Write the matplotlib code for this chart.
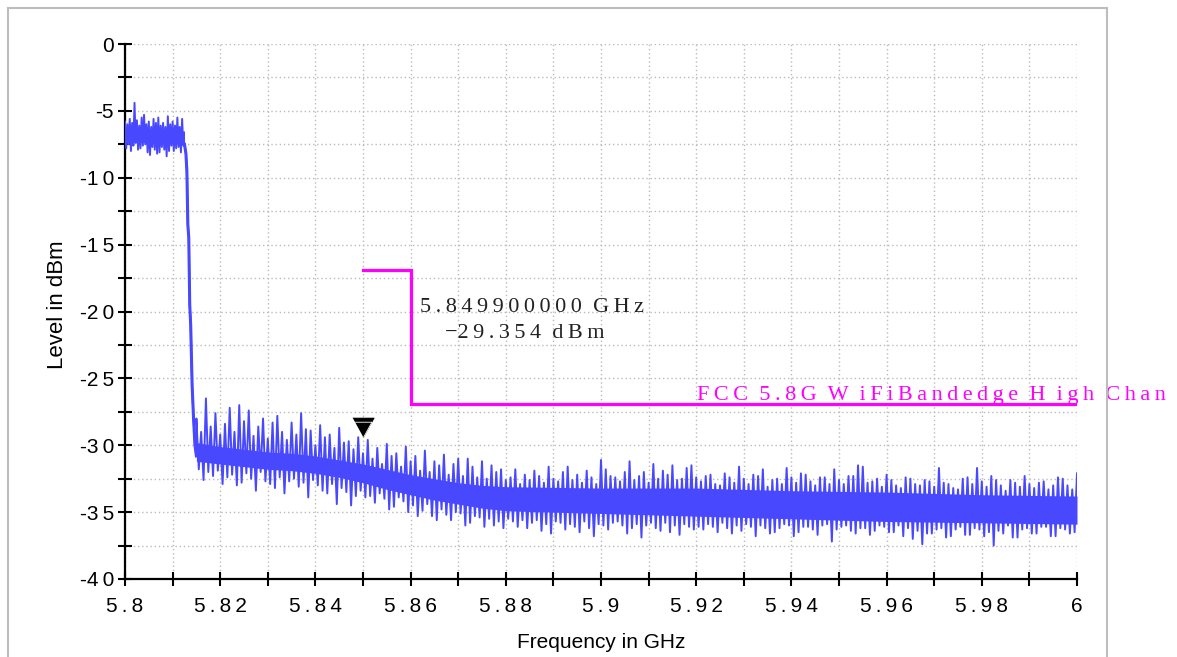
import numpy as np
import matplotlib.pyplot as plt
from matplotlib.lines import Line2D
from matplotlib.ticker import MultipleLocator, FixedLocator, FixedFormatter

# ---- data ----
# in-band part of the trace (5.8000 .. 5.8125 GHz, 0.5 MHz steps)
inband_peak = [-5.8, -6.0, -5.6, -5.9, -4.4, -5.7, -6.1, -5.5, -5.3, -6.0,
               -5.8, -6.2, -5.6, -5.9, -5.5, -6.1, -5.9, -6.2, -5.4, -6.0,
               -5.8, -6.1, -5.5, -6.2, -5.6, -5.9]
inband_valley = [-7.8, -7.5, -8.0, -7.6, -7.4, -7.9, -7.8, -7.6, -7.5, -8.1,
                 -8.3, -7.7, -7.9, -8.2, -8.1, -7.7, -7.9, -8.4, -8.0, -7.6,
                 -8.0, -7.8, -7.7, -8.1, -7.6, -7.9]
inband_core_freq = [5.8000, 5.8125]
inband_core_top = [-6.4, -6.5]
inband_core_bot = [-7.3, -7.5]

# roll-off at the channel edge
rolloff_freq = [5.8125, 5.8128, 5.8130, 5.8132, 5.8134, 5.8136, 5.8138, 5.8141, 5.8144, 5.8147, 5.8150]
rolloff_level = [-7.5, -8.2, -9.5, -13.5, -14.5, -19.5, -21.0, -25.5, -28.0, -30.0, -30.8]

# out-of-band noise (5.815 .. 6.000 GHz, 1 MHz steps): max and min of each bin
noise_peak = [
    -28.0, -29.0, -26.5, -28.6, -27.6, -29.2, -28.4, -27.2, -29.0, -27.0,
    -28.2, -27.4, -29.3, -28.6, -28.0, -29.5, -28.3, -27.8, -29.0, -29.6,
    -28.3, -29.2, -27.6, -28.8, -28.9, -30.0, -28.5, -29.4, -29.2, -30.2,
    -28.7, -29.8, -29.7, -30.3, -29.4, -30.6,
    -29.6, -31.0, -30.2, -31.4, -29.9, -30.8, -30.6, -31.6, -30.1, -31.2,
    -30.8, -31.9, -30.4, -32.0, -31.2, -31.5, -30.7, -32.2, -31.4, -31.0,
    -32.3, -31.0, -31.6, -32.4, -31.2, -32.5, -31.5, -32.0, -31.8, -32.6,
    -32.4, -31.8, -32.9, -32.2, -32.6, -31.9, -32.3, -32.8, -31.6, -32.5,
    -32.7, -32.0, -31.6, -32.6, -32.2, -32.8, -31.9, -32.4, -32.9, -31.1,
    -31.8, -32.3, -32.4, -32.7, -32.0, -31.2, -32.6, -32.3, -32.0, -32.8,
    -31.4, -32.5, -31.9, -32.2, -31.5, -32.6, -32.5, -31.7, -31.5, -32.4,
    -32.7, -32.3, -32.2, -32.9, -33.0, -32.1, -32.4, -32.8, -31.6, -32.5,
    -32.9, -32.2, -32.3, -31.8, -33.1, -32.6, -32.5, -32.9, -31.7, -32.4,
    -32.8, -32.1, -32.2, -32.7, -33.0, -32.4, -32.4, -32.9, -31.8, -32.6,
    -32.9, -32.3, -32.3, -31.5, -31.6, -32.8, -32.7, -32.5, -33.1, -32.2,
    -32.6, -33.0, -33.2, -32.4, -32.5, -32.9, -33.0, -32.6, -32.7, -33.1,
    -31.7, -32.8, -32.9, -33.2, -33.3, -32.5, -32.4, -32.9, -31.7, -32.7,
    -33.1, -32.3, -32.6, -33.0, -33.4, -32.6, -32.8, -33.1, -32.3, -32.9,
    -33.2, -32.8, -32.7, -33.3, -33.0, -32.4, -32.5, -33.0, -33.3, -32.1,
]
noise_valley = [
    -31.8, -32.6, -32.0, -32.3, -31.9, -32.9, -32.4, -32.2, -33.0, -32.8,
    -32.1, -32.5, -33.4, -32.0, -32.7, -32.9, -33.2, -32.4, -33.6, -32.7,
    -32.5, -33.1, -32.8, -33.9, -32.6, -33.0, -33.4, -33.6, -32.9, -34.4,
    -33.2, -33.5, -34.5, -33.8, -33.4, -33.9,
    -33.8, -34.3, -33.6, -34.0, -34.8, -34.6, -33.9, -34.2, -35.0, -34.5,
    -35.3, -34.9, -34.4, -35.3, -35.6, -34.8, -35.2, -35.6, -35.0, -35.1,
    -36.0, -35.8, -35.3, -35.4, -36.1, -35.5, -36.0, -35.7, -36.2, -35.5,
    -35.7, -36.1, -35.6, -36.2, -35.8, -35.6, -36.4, -35.9, -36.6, -35.7,
    -35.8, -36.3, -35.9, -36.1, -36.5, -35.7, -36.2, -36.8, -35.9, -36.0,
    -36.3, -35.8, -35.7, -36.0, -36.6, -36.2, -35.9, -36.9, -36.0, -35.8,
    -36.2, -36.4, -35.8, -36.5, -36.0, -36.7, -35.9, -36.1, -36.3, -36.1,
    -36.3, -35.9, -36.1, -36.5, -35.8, -36.2, -36.6, -36.0, -36.4, -35.9,
    -36.1, -36.8, -36.0, -36.2, -36.6, -36.5, -36.2, -35.9, -36.0, -36.8,
    -36.5, -36.1, -36.1, -36.3, -36.7, -36.0, -35.9, -37.2, -36.3, -36.1,
    -36.0, -36.4, -36.6, -36.2, -36.2, -36.7, -36.4, -36.0, -36.1, -36.5,
    -36.5, -36.0, -36.8, -36.2, -37.0, -36.4, -37.4, -36.6, -36.6, -36.3,
    -36.2, -36.9, -36.8, -36.3, -36.1, -36.7, -36.7, -36.2, -36.3, -36.8,
    -36.5, -37.5, -36.4, -36.6, -36.0, -36.9, -36.9, -36.3, -36.2, -36.6,
    -36.6, -36.1, -36.1, -36.8, -36.8, -36.2, -36.3, -36.6, -36.5, -35.9,
]
noise_core_freq = [5.815, 5.82, 5.825, 5.83, 5.835, 5.84, 5.845, 5.85, 5.855, 5.86,
                   5.865, 5.87, 5.875, 5.88, 5.90, 5.92, 5.94, 5.96, 5.98, 6.0]
noise_core_top = [-29.8, -30.1, -30.3, -30.5, -30.6, -30.8, -31.1, -31.4, -31.8, -32.2,
                  -32.5, -32.8, -33.0, -33.1, -33.2, -33.2, -33.4, -33.5, -33.7, -33.8]
noise_core_bot = [-31.2, -31.4, -31.6, -31.8, -31.9, -32.1, -32.4, -32.8, -33.3, -33.7,
                  -34.1, -34.4, -34.7, -34.9, -35.1, -35.3, -35.5, -35.7, -35.8, -35.9]

# limit line
limit_freq = [5.85, 5.86, 5.86, 6.0]
limit_level = [-16.9, -16.9, -26.9, -26.9]
limit_name = "FCC 5.8G W iFiBandedge H igh Chan"

# marker
marker_freq = 5.8499
marker_level = -29.354
marker_lines = ["5.849900000 GHz", "\u221229.354 dBm"]

x_major = [5.8, 5.82, 5.84, 5.86, 5.88, 5.9, 5.92, 5.94, 5.96, 5.98, 6.0]
x_labels = ['5.8', '5.82', '5.84', '5.86', '5.88', '5.9',
            '5.92', '5.94', '5.96', '5.98', '6']
y_major = [-40, -35, -30, -25, -20, -15, -10, -5, 0]
y_labels = ['-40', '-35', '-30', '-25', '-20', '-15', '-10', '-5', '0']


def spaced(s, word_gap='  '):
    # the analyzer software draws its text with wide letter spacing
    out = []
    for i, ch in enumerate(s):
        if ch == ' ':
            out.append(word_gap)
            continue
        out.append(ch)
        if i < len(s) - 1 and ch not in '-\u2212' and s[i + 1] != ' ':
            out.append('\u2009')
    return ''.join(out)


def zigzag(freq, step, top, bottom):
    # each sweep point holds a max and a min sample, half a bin apart
    f = np.empty(2 * len(freq))
    v = np.empty(2 * len(freq))
    f[0::2] = freq
    f[1::2] = np.asarray(freq) + step / 2
    v[0::2] = top
    v[1::2] = bottom
    return f, v


# ---- figure ----
W, H = 1177, 657
fig = plt.figure(figsize=(W / 100, H / 100), dpi=100)
ax = fig.add_axes([125 / W, 1 - 579 / H, (1077 - 125) / W, (579 - 44) / H])

blue = '#4848FF'
inband_freq = np.round(np.arange(len(inband_peak)) * 0.0005 + 5.8, 4)
noise_freq = np.round(np.arange(len(noise_peak)) * 0.001 + 5.815, 3)
fi, vi = zigzag(inband_freq[:-1], 0.0005, inband_peak[:-1], inband_valley[:-1])
fn, vn = zigzag(noise_freq[:-1], 0.001, noise_peak[:-1], noise_valley[:-1])
trace_f = np.concatenate([fi, rolloff_freq, fn, [noise_freq[-1]]])
trace_v = np.concatenate([vi, rolloff_level, vn, [noise_peak[-1]]])

ax.fill_between(inband_core_freq, inband_core_bot, inband_core_top, color=blue, lw=0, zorder=2)
ax.fill_between(noise_core_freq, noise_core_bot, noise_core_top, color=blue, lw=0, zorder=2)
ax.plot(trace_f, trace_v, color=blue, lw=1.4, zorder=3)
ax.plot(rolloff_freq, rolloff_level, color=blue, lw=2.2, zorder=3)

ax.plot(limit_freq, limit_level, color='#FF00FF', lw=2.3, zorder=4, solid_joinstyle='miter')
ax.text(5.9202, -26.6, spaced(limit_name), color='#FF00FF', fontsize=16,
        family='Liberation Serif', va='baseline', ha='left', clip_on=False, zorder=5)

# marker triangle (tip on the marker point)
tri = [(-0.55, 1.0), (0.55, 1.0), (0.0, 0.0)]
ax.plot([marker_freq], [marker_level], marker=tri, markersize=28, color='black',
        markeredgecolor='black', markeredgewidth=0.5, zorder=6, clip_on=False)
ax.plot([marker_freq], [marker_level], marker=tri, markersize=22, color='none',
        markeredgecolor='white', markeredgewidth=0.6, zorder=7, clip_on=False)

ax.text(5.862, -20.0, spaced(marker_lines[0]), fontsize=16,
        family='Liberation Serif', va='baseline', ha='left', color='#222222')
ax.text(5.8672, -22.0, spaced(marker_lines[1]), fontsize=16,
        family='Liberation Serif', va='baseline', ha='left', color='#222222')

ax.set_xlim(5.8, 6.0)
ax.set_ylim(-40, 0)
ax.xaxis.set_major_locator(FixedLocator(x_major))
ax.xaxis.set_major_formatter(FixedFormatter([spaced(t) for t in x_labels]))
ax.xaxis.set_minor_locator(MultipleLocator(0.01))
ax.yaxis.set_major_locator(FixedLocator(y_major))
ax.yaxis.set_major_formatter(FixedFormatter([spaced(t) for t in y_labels]))
ax.yaxis.set_minor_locator(MultipleLocator(2.5))

ax.grid(True, which='both', color='#BBBBBB', ls=(0, (1, 2)), lw=1.0, zorder=0)
ax.set_axisbelow(True)
for s in ['top', 'right']:
    ax.spines[s].set_visible(False)
for s in ['left', 'bottom']:
    ax.spines[s].set_linewidth(1.6)
ax.tick_params(which='both', direction='inout', length=10, width=1.5, color='black')
ax.tick_params(axis='x', which='both', pad=8, labelsize=15)
ax.tick_params(axis='y', which='both', pad=3, labelsize=15)
for lab in ax.get_xticklabels() + ax.get_yticklabels():
    lab.set_family('Liberation Sans')

ax.set_xlabel('Frequency in GHz', fontsize=15, family='Liberation Sans', labelpad=12)
ax.set_ylabel('Level in dBm', fontsize=16, family='Liberation Sans', labelpad=9)
ax.yaxis.set_label_coords(-0.0595, 0.512)

# grey outer frame of the screenshot
frame = '#BDBDBD'
fig.add_artist(Line2D([8 / W, 8 / W], [0, 1 - 8 / H], transform=fig.transFigure, color=frame, lw=1.5))
fig.add_artist(Line2D([8 / W, 1107 / W], [1 - 8 / H, 1 - 8 / H], transform=fig.transFigure, color=frame, lw=1.5))
fig.add_artist(Line2D([1107 / W, 1107 / W], [0, 1 - 8 / H], transform=fig.transFigure, color=frame, lw=1.5))

fig.savefig('out.png', dpi=100)
